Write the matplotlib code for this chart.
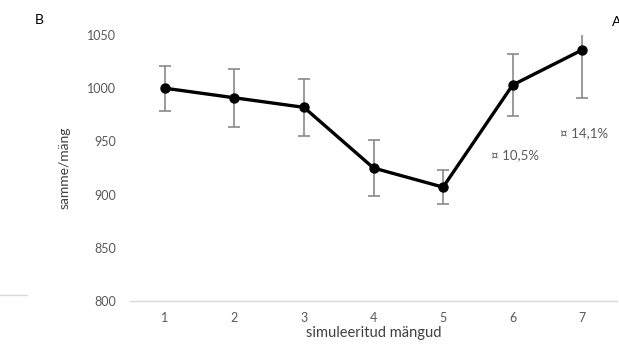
import matplotlib
matplotlib.use("Agg")
import matplotlib.pyplot as plt
import matplotlib.lines as mlines

plt.rcParams['font.family'] = ['Lato', 'DejaVu Sans']

games = [1, 2, 3, 4, 5, 6, 7]
steps = [1000, 991, 982, 925, 907, 1003, 1036]
errors = [21, 27, 27, 26, 16, 29, 45]
yticks = [800, 850, 900, 950, 1000, 1050]
notes = ["¤ 10,5%", "¤ 14,1%"]
note_pos = [(6.04, 937), (7.03, 958)]

fig = plt.figure(figsize=(6.19, 3.47), dpi=100)
ax = fig.add_axes([130 / 619, 1 - 301 / 347, 487 / 619, 266 / 347])

ax.errorbar(games, steps, yerr=errors, fmt='none', ecolor='#8a8a8a',
            elinewidth=1.2, capsize=4, capthick=1.2, zorder=2)
ax.plot(games, steps, color='black', lw=2.4, marker='o', ms=6.5, zorder=3)

ax.set_xlim(0.5, 7.5)
ax.set_ylim(800, 1050)
ax.set_xticks(games)
ax.set_yticks(yticks)
ax.tick_params(axis='both', length=0, labelsize=9, labelcolor='#595959')
ax.tick_params(axis='x', pad=8)
ax.tick_params(axis='y', pad=10)
for s in ['top', 'right', 'left']:
    ax.spines[s].set_visible(False)
ax.spines['bottom'].set_color('#d9d9d9')
ax.spines['bottom'].set_linewidth(1)

ax.set_xlabel('simuleeritud mängud', fontsize=10.5, color='#404040', labelpad=1)
ax.set_ylabel('samme/mäng', fontsize=10, color='#404040', labelpad=12)

for (x, y), t in zip(note_pos, notes):
    ax.text(x, y, t, fontsize=9.5, color='#595959', ha='center', va='center')

fig.text(35 / 619, 1 - 20 / 347, 'B', fontsize=10, ha='left', va='center')
fig.text(612 / 619, 1 - 22 / 347, 'A', fontsize=10, ha='left', va='center')
fig.add_artist(mlines.Line2D([0, 27 / 619], [1 - 295 / 347] * 2,
                             color='#d9d9d9', lw=1, transform=fig.transFigure))

fig.savefig('out.png', dpi=100, facecolor='white')
